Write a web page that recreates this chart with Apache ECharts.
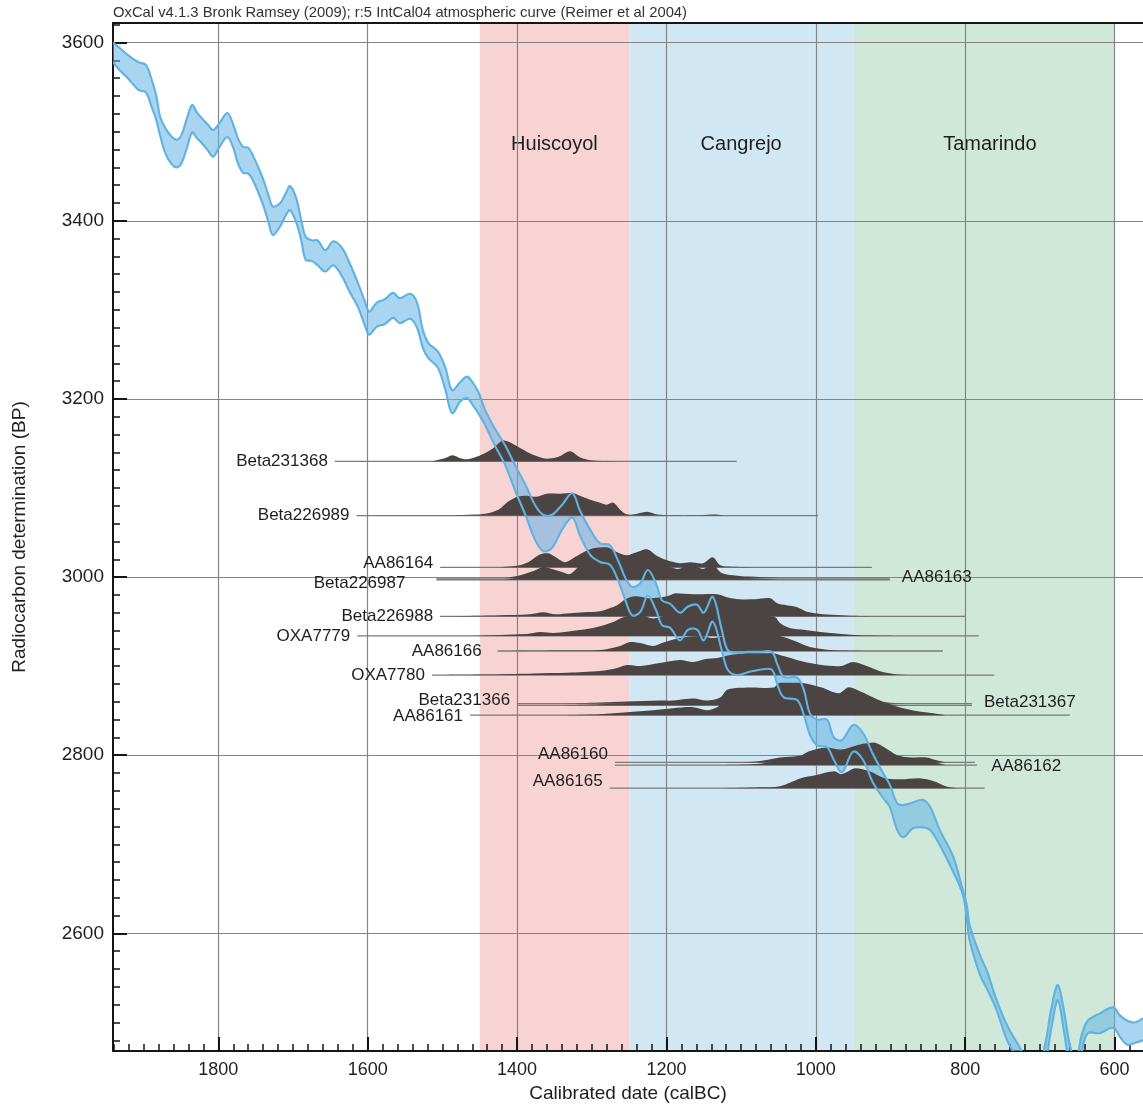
<!DOCTYPE html>
<html>
<head>
<meta charset="utf-8">
<title>Radiocarbon calibration – Huiscoyol, Cangrejo, Tamarindo</title>
<script src="https://cdn.jsdelivr.net/npm/echarts@6/dist/echarts.min.js"></script>
<style>
  html, body { margin: 0; padding: 0; background: #ffffff; }
  #chart { width: 1143px; height: 1105px; }
</style>
</head>
<body>
<div id="chart"></div>
<script>
// ---- Axis ranges and tick values ----
const xMin = 562, xMax = 1941;          // cal BC (axis runs backwards in time)
const yMin = 2468, yMax = 3622;         // radiocarbon age BP
const xMajorTicks = [1800, 1600, 1400, 1200, 1000, 800, 600];
const yMajorTicks = [3600, 3400, 3200, 3000, 2800, 2600];

// ---- Ceramic phases (cal BC) ----
const phaseNames = ['Huiscoyol', 'Cangrejo', 'Tamarindo'];
const phaseStart = [1450, 1250, 950];
const phaseEnd   = [1250, 950, 600];

// ---- IntCal04 calibration curve: upper / lower edge of the band (BP) ----
const curveYears = [1941,1932,1921,1907,1897,1889,1883,1878,1871,1862,1855,1849,1842,1835,1829,1822,1814,1807,1799,1788,1780,1774,1767,1760,1754,1741,1733,1727,1717,1709,1704,1696,1689,1683,1675,1667,1657,1646,1634,1624,1613,1604,1598,1588,1577,1566,1557,1543,1534,1526,1519,1506,1496,1487,1476,1467,1460,1452,1443,1430,1416,1403,1389,1376,1365,1353,1340,1326,1316,1302,1289,1276,1265,1255,1246,1235,1225,1214,1206,1195,1182,1171,1159,1150,1138,1126,1118,1106,1092,1075,1059,1051,1043,1025,1016,1008,998,985,976,965,950,937,924,910,901,891,883,870,857,847,834,816,803,798,794,780,771,758,744,727,713,700,693,684,676,668,660,652,644,636,620,602,593,583,573,562];
const curveUpper = [3600,3594,3586,3578,3575,3558,3540,3517,3504,3494,3491,3497,3515,3530,3522,3515,3508,3502,3509,3521,3508,3493,3483,3482,3474,3449,3429,3416,3420,3432,3439,3426,3401,3382,3378,3378,3367,3377,3369,3352,3330,3310,3298,3308,3312,3319,3313,3318,3308,3277,3263,3253,3235,3210,3219,3225,3219,3208,3188,3167,3148,3126,3104,3081,3070,3070,3081,3094,3075,3053,3038,3036,3019,2999,2989,2993,3008,2993,2974,2970,2960,2967,2969,2960,2978,2941,2918,2915,2916,2916,2916,2901,2888,2887,2873,2847,2840,2840,2820,2817,2834,2825,2802,2780,2767,2746,2744,2747,2750,2742,2716,2686,2648,2632,2609,2575,2558,2525,2497,2472,2452,2457,2475,2519,2542,2514,2475,2457,2486,2502,2510,2517,2508,2502,2500,2505];
const curveLower = [3578,3569,3560,3547,3544,3527,3513,3496,3476,3463,3460,3465,3482,3499,3493,3487,3479,3472,3482,3494,3482,3465,3454,3453,3446,3420,3399,3384,3394,3407,3412,3399,3378,3356,3355,3350,3343,3350,3337,3320,3303,3283,3272,3281,3284,3291,3285,3290,3280,3257,3246,3235,3210,3184,3197,3201,3194,3184,3171,3148,3126,3098,3070,3042,3029,3033,3053,3067,3047,3025,3017,3014,2997,2974,2957,2961,2979,2963,2946,2943,2929,2941,2941,2929,2950,2918,2896,2890,2893,2896,2896,2878,2865,2862,2845,2823,2811,2809,2795,2781,2804,2795,2770,2752,2742,2716,2708,2718,2719,2716,2699,2669,2643,2617,2592,2553,2538,2514,2480,2455,2435,2435,2452,2497,2525,2491,2452,2441,2468,2488,2488,2494,2484,2475,2477,2480];

// ---- Dated samples ----
const dateNames = ['Beta231368','Beta226989','AA86164','Beta226987','AA86163','Beta226988','OXA7779','AA86166','OXA7780','Beta231366','Beta231367','AA86161','AA86160','AA86162','AA86165'];
const dateBP    = [3130, 3069, 3011, 2999, 2997, 2956, 2934, 2917, 2890, 2858, 2856, 2845, 2792, 2789, 2763];
const rangeFrom = [1644, 1615, 1503, 1508, 1508, 1503, 1614, 1426, 1514, 1400, 1400, 1463, 1269, 1269, 1276];
const rangeTo   = [1106, 997, 925, 901, 901, 800, 782, 830, 761, 791, 791, 660, 787, 784, 774];
const labelSide = ['left','left','left','left','right','left','left','left','left','left','right','left','left','right','left'];

// Calibrated probability distributions: [cal BC, relative probability]
const probBeta231368 = [[1513,0],[1497,3],[1486,6],[1476,3],[1467,2],[1456,4],[1446,7],[1432,13],[1419,21],[1410,19],[1400,15],[1383,8],[1365,3],[1353,3],[1343,5],[1329,10],[1316,4],[1302,1],[1266,0]];
const probBeta226989 = [[1490,0],[1456,1],[1436,3],[1423,7],[1414,13],[1400,19],[1387,20],[1374,19],[1360,22],[1343,22],[1326,23],[1316,20],[1302,16],[1289,13],[1280,11],[1271,13],[1262,6],[1255,2],[1245,1],[1226,4],[1212,1],[1195,0.3],[1155,0.3],[1133,1],[1122,0]];
const probAA86164 = [[1423,0],[1396,2],[1383,6],[1369,13],[1358,14],[1348,10],[1336,5],[1325,9],[1311,15],[1298,19],[1280,20],[1266,15],[1253,12],[1240,15],[1226,18],[1212,11],[1199,7],[1182,4],[1168,5],[1151,4],[1138,10],[1128,2],[1108,0.5],[1075,0]];
const probBeta226987 = [[1416,0],[1400,2],[1378,7],[1365,11],[1353,9],[1340,6],[1329,4],[1316,12],[1293,17],[1271,20],[1249,22],[1226,20],[1209,16],[1185,9],[1168,14],[1151,9],[1139,14],[1126,5],[1102,2],[1075,1],[1048,0]];
const probAA86163 = [[1416,0],[1400,2],[1378,7],[1365,11],[1353,9],[1340,6],[1329,4],[1316,12],[1293,17],[1271,20],[1249,22],[1226,20],[1209,16],[1185,9],[1168,14],[1151,9],[1139,14],[1126,5],[1102,2],[1075,1],[1048,0]];
const probBeta226988 = [[1490,0],[1423,1],[1383,2],[1365,4],[1349,2],[1329,3],[1311,4],[1289,5],[1276,8],[1266,11],[1255,17],[1242,20],[1222,18],[1199,20],[1188,23],[1164,22],[1132,22],[1119,19],[1102,17],[1082,17],[1061,18],[1052,13],[1039,11],[1025,9],[1012,4.5],[991,2],[966,1],[941,0.3],[914,0]];
const probOXA7779 = [[1463,0],[1423,1],[1387,2],[1369,4],[1351,3],[1316,6],[1293,9],[1271,14],[1257,19],[1235,21],[1218,17.5],[1199,21],[1182,24],[1146,23],[1122,23],[1102,21],[1075,20],[1055,19],[1048,13],[1035,8],[1014,6],[994,4],[966,2],[941,0.7],[895,0]];
const probAA86166 = [[1426,0],[1343,0.5],[1289,1],[1262,5],[1249,9],[1235,8],[1218,5],[1202,9],[1182,13],[1155,15],[1138,13],[1122,15],[1102,16],[1075,16],[1048,15],[1028,10],[1008,4],[981,1],[954,0.3],[914,0]];
const probOXA7780 = [[1514,0],[1446,0.5],[1378,1.7],[1333,2.3],[1289,4],[1266,7],[1253,10],[1235,9],[1209,12],[1182,15],[1164,13],[1148,16],[1132,17],[1115,20],[1092,22],[1057,22],[1043,19],[1020,14],[992,10],[966,9],[950,13],[932,9],[913,3.5],[890,0.5],[861,0]];
const probBeta231366 = [[1343,0],[1289,1],[1253,2],[1209,3],[1191,3],[1164,5],[1146,3],[1128,6],[1118,14],[1089,16],[1057,16],[1048,21],[1020,21],[992,16],[969,9],[956,12.5],[941,6],[918,2.4],[895,0.5],[874,0]];
const probBeta231367 = [[1343,0],[1289,1],[1253,2],[1209,3],[1191,3],[1164,5],[1146,3],[1128,6],[1118,14],[1089,16],[1057,16],[1048,21],[1020,21],[992,16],[969,9],[956,12.5],[941,6],[918,2.4],[895,0.5],[874,0]];
const probAA86161 = [[1343,0],[1289,1],[1253,3],[1218,5],[1191,7],[1164,8],[1146,5],[1132,8],[1124,14],[1102,24],[1057,26],[1021,30],[992,27],[969,22],[956,28],[941,24],[918,16],[895,9.5],[871,5],[848,2.4],[826,0]];
const probAA86160 = [[1128,0],[1080,1],[1048,5],[1020,7],[1010,11],[987,15],[966,13],[941,18],[922,20],[908,15],[890,7],[871,5],[852,5],[842,3],[826,0]];
const probAA86162 = [[1128,0],[1080,1],[1048,4],[1020,6],[1010,9],[987,13],[966,11],[941,16],[922,18],[908,13],[890,7],[871,6],[852,6],[842,3],[826,0]];
const probAA86165 = [[1128,0],[1075,1],[1048,2],[1020,10],[1001,13],[975,17],[966,14],[947,20],[928,17],[908,10],[886,9],[861,10],[842,7],[826,2],[811,0]];

const dateProbs = [probBeta231368, probBeta226989, probAA86164, probBeta226987, probAA86163,
  probBeta226988, probOXA7779, probAA86166, probOXA7780, probBeta231366, probBeta231367,
  probAA86161, probAA86160, probAA86162, probAA86165];

// ---- Styling / layout ----
const FONT = '"Liberation Sans", Arial, Helvetica, sans-serif';
const PROB_TO_BP = 1.12;                 // vertical scale of the probability shapes
const phaseColors = ['#f7d3d4', '#d2e7f4', '#cfe8d9'];
const phaseLabelNudge = [0, 0, 6];
const labelNudge = {
  AA86164: { dx: 0, dy: -4 },
  Beta226987: { dx: -24, dy: 5 },
  AA86163: { dx: 0, dy: -2 },
  AA86166: { dx: -9, dy: 0 },
  Beta231366: { dx: 0, dy: -3 },
  Beta231367: { dx: 0, dy: -3 },
  AA86161: { dx: 0, dy: 1 },
  AA86160: { dx: 0, dy: -8 },
  AA86162: { dx: 2, dy: 1 },
  AA86165: { dx: 0, dy: -7 }
};

const xMinorTicks = [];
for (let v = 580; v <= 1940; v += 20) xMinorTicks.push(v);
const yMinorTicks = [];
for (let v = 2480; v <= 3620; v += 20) yMinorTicks.push(v);

function bbox(points) {
  let x0 = Infinity, y0 = Infinity, x1 = -Infinity, y1 = -Infinity;
  points.forEach(p => {
    x0 = Math.min(x0, p[0]); y0 = Math.min(y0, p[1]);
    x1 = Math.max(x1, p[0]); y1 = Math.max(y1, p[1]);
  });
  return [[x0, y0], [x1, y1]];
}

// ---- Renderers ----
function renderPhase(params, api) {
  const i = params.dataIndex;
  const cs = params.coordSys;
  const x1 = api.coord([phaseStart[i], yMin])[0];
  const x2 = api.coord([phaseEnd[i], yMin])[0];
  return {
    type: 'group',
    children: [
      { type: 'rect', shape: { x: Math.min(x1, x2), y: cs.y, width: Math.abs(x2 - x1), height: cs.height },
        style: { fill: phaseColors[i] } },
      { type: 'text', x: (x1 + x2) / 2 + phaseLabelNudge[i], y: cs.y + 121,
        style: { text: phaseNames[i], align: 'center', verticalAlign: 'middle', font: '20px ' + FONT, fill: '#1e1e1e' } }
    ]
  };
}

function curveEdges(api) {
  return {
    upper: curveYears.map((yr, k) => api.coord([yr, curveUpper[k]])),
    lower: curveYears.map((yr, k) => api.coord([yr, curveLower[k]]))
  };
}

// Band fill sits under the probability shapes, its two edges are drawn over them
function renderCurveFill(params, api) {
  const e = curveEdges(api);
  return { type: 'polygon', shape: { points: e.upper.concat(e.lower.slice().reverse()), smooth: 0.35 },
           style: { fill: 'rgba(98,178,228,0.55)' } };
}

function renderCurveEdges(params, api) {
  const e = curveEdges(api);
  return {
    type: 'group',
    children: [
      { type: 'polyline', shape: { points: e.upper, smooth: 0.35 }, style: { stroke: '#5fb2e2', lineWidth: 2.1, fill: null } },
      { type: 'polyline', shape: { points: e.lower, smooth: 0.35 }, style: { stroke: '#5fb2e2', lineWidth: 2.1, fill: null } }
    ]
  };
}

function renderDate(params, api) {
  const i = params.dataIndex;
  const bp = dateBP[i];
  const prob = dateProbs[i];
  const top = prob.map(p => api.coord([p[0], bp + p[1] * PROB_TO_BP]));
  const baseEnd = api.coord([prob[prob.length - 1][0], bp]);
  const baseStart = api.coord([prob[0][0], bp]);
  const shape = top.concat([baseEnd, baseStart]);
  const a = api.coord([rangeFrom[i], bp]);
  const b = api.coord([rangeTo[i], bp]);
  const nudge = labelNudge[dateNames[i]] || { dx: 0, dy: 0 };
  const onLeft = labelSide[i] === 'left';
  return {
    type: 'group',
    children: [
      { type: 'line', shape: { x1: a[0], y1: a[1], x2: b[0], y2: b[1] },
        style: { stroke: '#7a7a7a', lineWidth: 1.3 }, z2: 1 },
      { type: 'polygon', shape: { points: shape, smooth: 0.3, smoothConstraint: bbox(shape) },
        style: { fill: '#4b4443' }, z2: 5 },
      { type: 'text', x: (onLeft ? a[0] - 7 : b[0] + 12) + nudge.dx, y: a[1] + nudge.dy,
        style: { text: dateNames[i], align: onLeft ? 'right' : 'left',
                 verticalAlign: 'middle', font: '17px ' + FONT, fill: '#1e1e1e' }, z2: 20 }
    ]
  };
}

// ---- Chart ----
const chart = echarts.init(document.getElementById('chart'), null, { renderer: 'canvas' });

const axisLineStyle = { color: '#151515', width: 2 };
const gridLineStyle = { color: '#858585', width: 1.2 };
const plainNumber = v => String(v);

chart.setOption({
  animation: false,
  backgroundColor: '#ffffff',
  grid: { left: 113, right: 0, top: 23, bottom: 54, containLabel: false, outerBoundsMode: 'none' },
  graphic: [
    { type: 'text', left: 113, top: 5, z: 10,
      style: { text: 'OxCal v4.1.3 Bronk Ramsey (2009); r:5 IntCal04 atmospheric curve (Reimer et al 2004)',
               font: '14.8px ' + FONT, fill: '#333333' } }
  ],
  xAxis: [
    {
      type: 'value', min: xMin, max: xMax, inverse: true, position: 'bottom',
      name: 'Calibrated date (calBC)', nameLocation: 'middle', nameGap: 33,
      nameTextStyle: { fontSize: 19, color: '#1e1e1e', fontFamily: FONT },
      axisLine: { show: true, lineStyle: axisLineStyle },
      axisTick: { show: true, inside: true, length: 14, customValues: xMajorTicks, lineStyle: { color: '#151515', width: 2 } },
      axisLabel: { show: true, customValues: xMajorTicks, formatter: plainNumber, fontSize: 18, color: '#1e1e1e', fontFamily: FONT, margin: 10 },
      splitLine: { show: true, lineStyle: gridLineStyle }
    },
    {
      type: 'value', min: xMin, max: xMax, inverse: true, position: 'bottom',
      axisLine: { show: false },
      axisTick: { show: true, inside: true, length: 7, customValues: xMinorTicks, lineStyle: { color: '#151515', width: 1.5 } },
      axisLabel: { show: false },
      splitLine: { show: false }
    },
    {
      type: 'value', min: xMin, max: xMax, inverse: true, position: 'top',
      axisLine: { show: true, onZero: false, lineStyle: axisLineStyle },
      axisTick: { show: false }, axisLabel: { show: false }, splitLine: { show: false }
    }
  ],
  yAxis: [
    {
      type: 'value', min: yMin, max: yMax, position: 'left',
      name: 'Radiocarbon determination (BP)', nameLocation: 'middle', nameGap: 84, nameRotate: 90,
      nameTextStyle: { fontSize: 19, color: '#1e1e1e', fontFamily: FONT },
      axisLine: { show: true, onZero: false, lineStyle: axisLineStyle },
      axisTick: { show: true, inside: true, length: 14, customValues: yMajorTicks, lineStyle: { color: '#151515', width: 2 } },
      axisLabel: { show: true, customValues: yMajorTicks, formatter: plainNumber, fontSize: 19, color: '#1e1e1e', fontFamily: FONT, margin: 9 },
      splitLine: { show: true, lineStyle: gridLineStyle }
    },
    {
      type: 'value', min: yMin, max: yMax, position: 'left',
      axisLine: { show: false },
      axisTick: { show: true, inside: true, length: 7, customValues: yMinorTicks, lineStyle: { color: '#151515', width: 1.5 } },
      axisLabel: { show: false },
      splitLine: { show: false }
    }
  ],
  series: [
    {
      type: 'custom', name: 'phases', z: -1, silent: true,
      xAxisIndex: 0, yAxisIndex: 0,
      renderItem: renderPhase,
      data: phaseStart.map((s, i) => [s, phaseEnd[i]]),
      encode: { x: [0, 1] }
    },
    {
      type: 'custom', name: 'IntCal04 band', z: 1, silent: true, clip: true,
      xAxisIndex: 0, yAxisIndex: 0,
      renderItem: renderCurveFill,
      data: [[curveYears[0], curveUpper[0]]],
      encode: { x: 0, y: 1 }
    },
    {
      type: 'custom', name: 'dates', z: 2, silent: true,
      xAxisIndex: 0, yAxisIndex: 0,
      renderItem: renderDate,
      data: dateNames.map((n, i) => [rangeFrom[i], dateBP[i]]),
      encode: { x: 0, y: 1 }
    },
    {
      type: 'custom', name: 'IntCal04', z: 3, silent: true, clip: true,
      xAxisIndex: 0, yAxisIndex: 0,
      renderItem: renderCurveEdges,
      data: [[curveYears[0], curveUpper[0]]],
      encode: { x: 0, y: 1 }
    }
  ]
});
</script>
</body>
</html>
